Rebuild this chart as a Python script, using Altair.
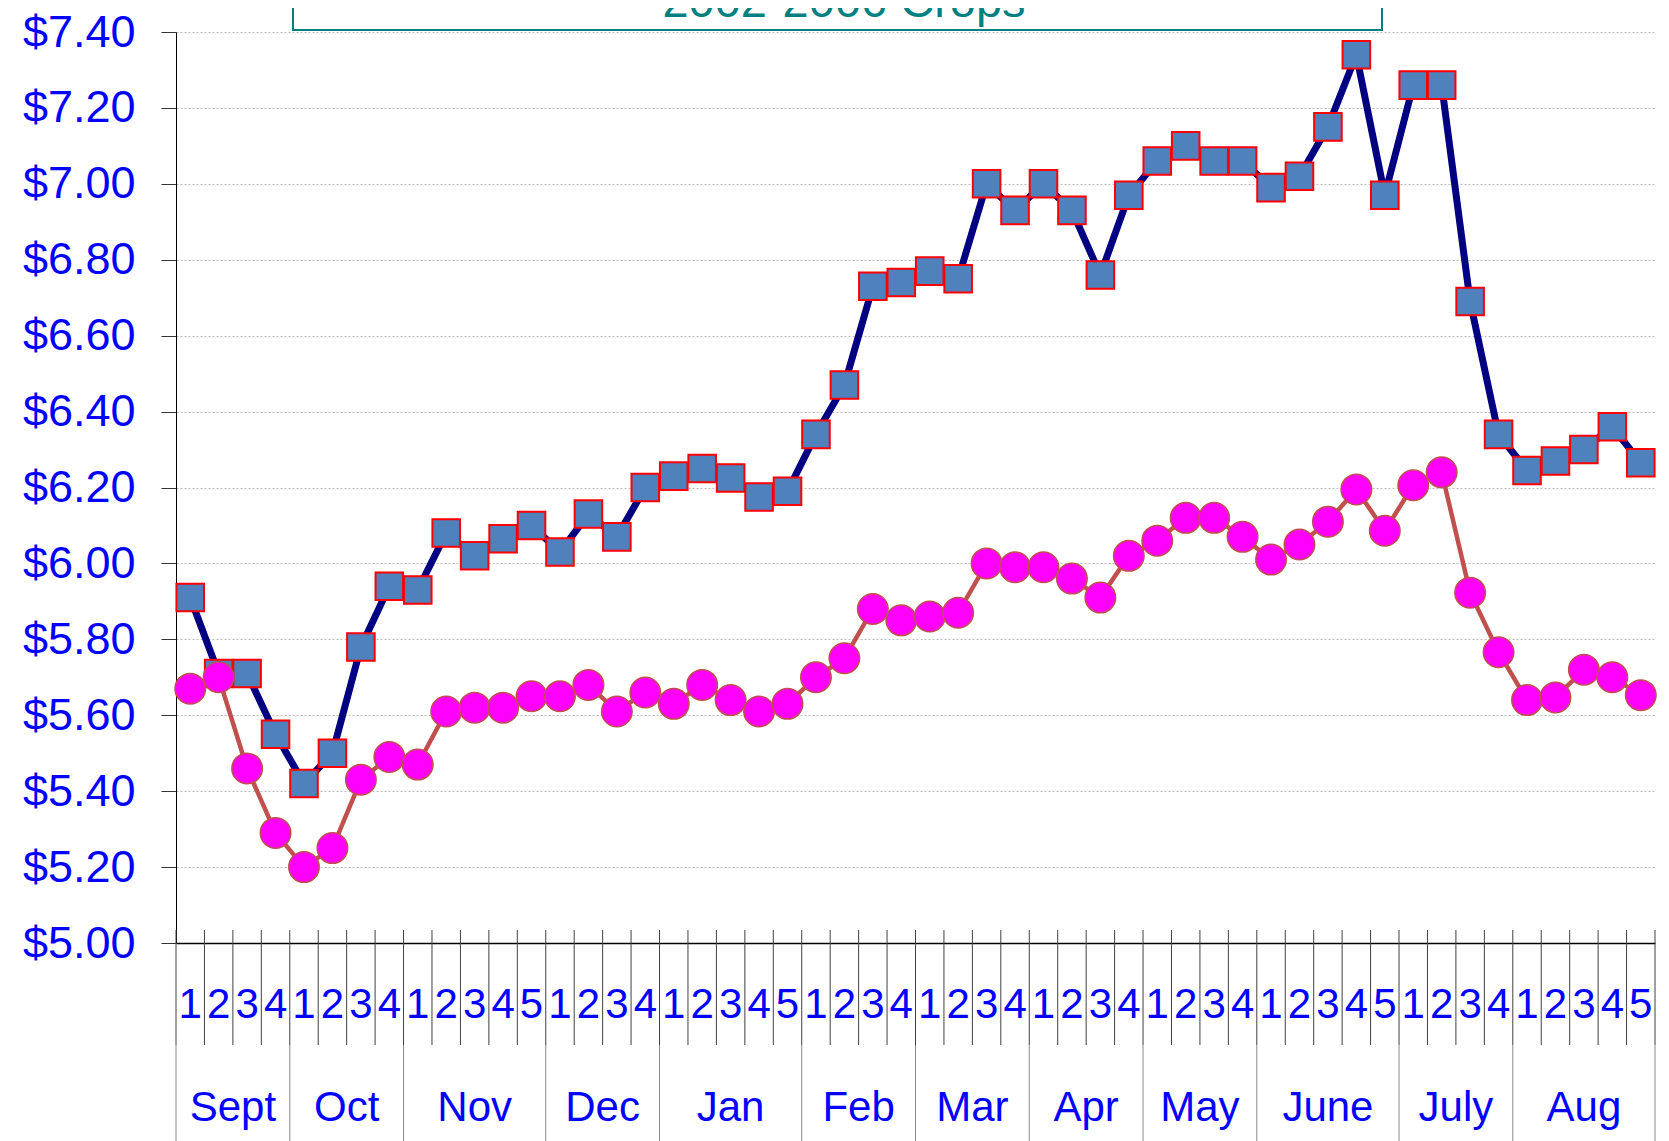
import altair as alt
import pandas as pd

# ---------------- data ----------------
months = ["Sept", "Oct", "Nov", "Dec", "Jan", "Feb", "Mar", "Apr", "May", "June", "July", "Aug"]
weeks_per_month = [4, 4, 5, 4, 5, 4, 4, 4, 4, 5, 4, 5]
series_names = ["Weekly price", "2002-2006 Crops"]
blue_values = [5.91, 5.71, 5.71, 5.55, 5.42, 5.50, 5.78, 5.94, 5.93, 6.08,
               6.02, 6.065, 6.10, 6.03, 6.13, 6.07, 6.20, 6.23, 6.25, 6.225,
               6.175, 6.19, 6.34, 6.47, 6.73, 6.74, 6.77, 6.75, 7.00, 6.93,
               7.00, 6.93, 6.76, 6.97, 7.06, 7.10, 7.06, 7.06, 6.99, 7.02,
               7.15, 7.34, 6.97, 7.26, 7.26, 6.69, 6.34, 6.245, 6.27, 6.30,
               6.36, 6.265]
pink_values = [5.67, 5.70, 5.46, 5.29, 5.20, 5.25, 5.43, 5.49, 5.47, 5.61,
               5.62, 5.62, 5.65, 5.65, 5.68, 5.61, 5.66, 5.63, 5.68, 5.64,
               5.61, 5.63, 5.70, 5.75, 5.88, 5.85, 5.86, 5.87, 6.00, 5.99,
               5.99, 5.96, 5.91, 6.02, 6.06, 6.12, 6.12, 6.07, 6.01, 6.05,
               6.11, 6.195, 6.086, 6.206, 6.24, 5.923, 5.766, 5.64, 5.647, 5.72,
               5.70, 5.653]
y_ticks = [5.0, 5.2, 5.4, 5.6, 5.8, 6.0, 6.2, 6.4, 6.6, 6.8, 7.0, 7.2, 7.4]
title_text = "2002-2006 Crops"

# ---------------- tables ----------------
week_nums, month_of = [], []
for m, n in zip(months, weeks_per_month):
    for k in range(1, n + 1):
        week_nums.append(k)
        month_of.append(m)
N = len(week_nums)

rows = []
for i in range(N):
    rows.append({"pos": i + 0.5, "week": str(week_nums[i]), "month": month_of[i],
                 "value": blue_values[i], "series": series_names[0]})
for i in range(N):
    rows.append({"pos": i + 0.5, "week": str(week_nums[i]), "month": month_of[i],
                 "value": pink_values[i], "series": series_names[1]})
df = pd.DataFrame(rows)
df_blue = df[df.series == series_names[0]]
df_pink = df[df.series == series_names[1]]

bounds = pd.DataFrame({"pos": list(range(N + 1))})
mstarts, s = [], 0
for n in weeks_per_month:
    mstarts.append(s)
    s += n
mstarts.append(s)
month_bounds = pd.DataFrame({"pos": mstarts})
month_lab = pd.DataFrame({"month": months,
                          "pos": [(mstarts[j] + mstarts[j + 1]) / 2 for j in range(len(months))]})
title_df = pd.DataFrame({"t": [title_text]})

W, H = 1479, 911
FONT = "Liberation Sans"
BLUE_TXT = "#0000FF"

xscale = alt.Scale(domain=[0, N], nice=False, zero=False)
yscale = alt.Scale(domain=[5.0, 7.4], nice=False, zero=False)

x_axis = alt.Axis(labels=False, ticks=False, grid=False, title=None,
                  domainColor="black", domainWidth=1.5)
y_axis = alt.Axis(values=y_ticks, title=None,
                  labelExpr="'$' + format(datum.value, '.2f')",
                  labelFont=FONT, labelFontSize=45, labelColor=BLUE_TXT,
                  labelPadding=26, tickSize=15, tickColor="#333333",
                  domainColor="black", domainWidth=1,
                  grid=True, gridColor="#bdbdbd", gridDash=[2, 2], gridWidth=1)

X = alt.X("pos:Q", scale=xscale, axis=x_axis)
Y = alt.Y("value:Q", scale=yscale, axis=y_axis)

blue_line = alt.Chart(df_blue).mark_line(color="#000080", strokeWidth=7).encode(x=X, y=Y)
blue_pts = alt.Chart(df_blue).mark_point(shape="square", filled=True, size=760, fill="#4F81BD",
                                         stroke="#FF0000", strokeWidth=2, opacity=1).encode(x=X, y=Y)
pink_line = alt.Chart(df_pink).mark_line(color="#C0504D", strokeWidth=4.5).encode(x=X, y=Y)
pink_pts = alt.Chart(df_pink).mark_point(shape="circle", filled=True, size=930, fill="#FF00FF",
                                         stroke="#C0504D", strokeWidth=1.5, opacity=1).encode(x=X, y=Y)

week_rules = alt.Chart(bounds).mark_rule(color="#404040", strokeWidth=1).encode(
    x=X, y=alt.value(H - 13), y2=alt.value(H + 102))
month_rules = alt.Chart(month_bounds).mark_rule(color="#8a8a8a", strokeWidth=1).encode(
    x=X, y=alt.value(H + 102), y2=alt.value(H + 200))

week_text = alt.Chart(df_blue).mark_text(font=FONT, fontSize=42, color=BLUE_TXT,
                                         baseline="middle", align="center").encode(
    x=X, y=alt.value(H + 62), text="week:N")
month_text = alt.Chart(month_lab).mark_text(font=FONT, fontSize=42, color=BLUE_TXT,
                                            baseline="middle", align="center").encode(
    x=X, y=alt.value(H + 165), text="month:N")

title_box = alt.Chart(title_df).mark_rect(fill="transparent", stroke="#008080", strokeWidth=2).encode(
    x=alt.value(117), x2=alt.value(1206), y=alt.value(-90), y2=alt.value(-2))
title_txt = alt.Chart(title_df).mark_text(font=FONT, fontSize=47, color="#008080",
                                          baseline="alphabetic", align="center").encode(
    x=alt.value(668), y=alt.value(-15), text="t:N")

chart = alt.layer(
    blue_line, week_rules, month_rules, blue_pts, pink_line, pink_pts,
    week_text, month_text, title_box, title_txt
).properties(
    width=W, height=H,
    padding={"left": 168, "top": 24, "right": 6, "bottom": 198},
    autosize=alt.AutoSizeParams(type="none"),
).configure_view(strokeWidth=0)

chart.save("out.html", embed_options={"renderer": "svg", "actions": False})
